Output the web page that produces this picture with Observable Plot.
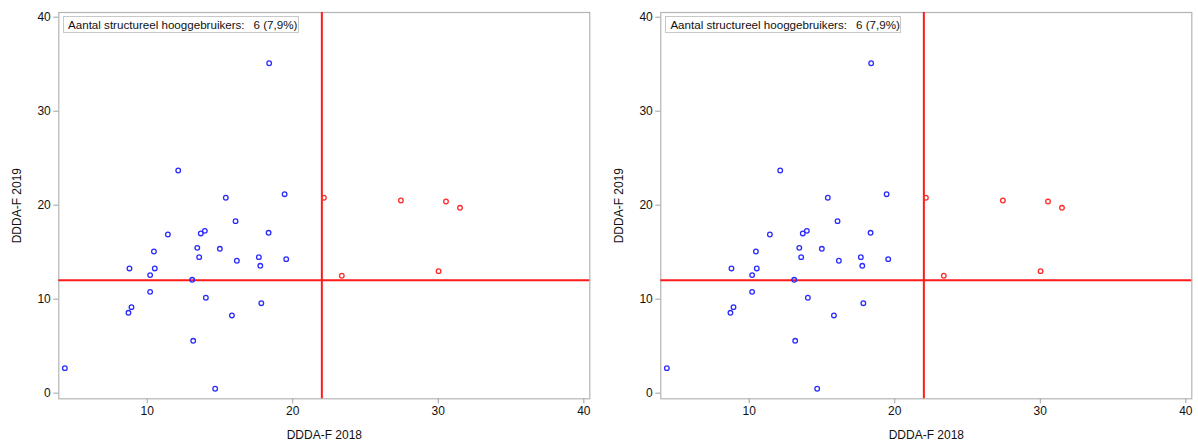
<!DOCTYPE html>
<html>
<head>
<meta charset="utf-8">
<script src="https://cdn.jsdelivr.net/npm/d3@7"></script>
<script src="https://cdn.jsdelivr.net/npm/@observablehq/plot@0.6"></script>
<style>
  html, body { margin: 0; padding: 0; background: #fff; }
  body { width: 1198px; height: 441px; position: relative; overflow: hidden; font-family: "Liberation Sans", Arial, sans-serif; }
  .panel { position: absolute; top: 0; width: 602px; height: 441px; }
  .panel svg { max-width: none !important; width: 602px; height: 441px; }
  .legendbox { position: absolute; border: 1px solid #c8c8c8; background: #fff; font-size: 11.6px; color: #111; padding: 0 0 0 4px; height: 17px; line-height: 15px; white-space: nowrap; box-sizing: border-box; }
  .legendbox span.v { margin-left: 9px; }
</style>
</head>
<body>
<script>
// DDDA-F 2018 (x) and DDDA-F 2019 (y) per prescriber
const ddda2018 = [4.34, 8.78, 8.71, 8.92, 10.2, 10.46, 10.52, 10.2, 11.42, 13.09, 13.16, 13.44, 13.57, 13.68, 13.96, 14.03, 14.67, 14.99, 16.07, 16.16, 15.82, 17.67, 17.77, 17.84, 18.34, 19.55, 12.13, 15.4, 18.38, 19.44, 22.14, 27.43, 30.53, 31.49, 23.37, 30.02];
const ddda2019 = [2.66, 13.27, 8.55, 9.15, 12.56, 15.07, 13.27, 10.78, 16.88, 12.06, 5.57, 15.46, 14.47, 16.99, 17.27, 10.15, 0.47, 15.36, 18.3, 14.09, 8.27, 14.47, 13.55, 9.57, 17.06, 14.26, 23.69, 20.79, 35.1, 21.17, 20.79, 20.5, 20.39, 19.72, 12.49, 12.98];
const xThreshold = 22;
const yThreshold = 12;
const xTicks = [10, 20, 30, 40];
const yTicks = [0, 10, 20, 30, 40];
const legendLabel = "Aantal structureel hooggebruikers:";
const legendValue = "6 (7,9%)";
const xLabel = "DDDA-F 2018";
const yLabel = "DDDA-F 2019";

const data = ddda2018.map((x, i) => ({x, y: ddda2019[i], high: x > xThreshold && ddda2019[i] > yThreshold}));

function panel(left) {
  const chart = Plot.plot({
    width: 602,
    height: 441,
    marginLeft: 58.3,
    marginRight: 12.7,
    marginTop: 12,
    marginBottom: 42.7,
    style: {fontFamily: "Liberation Sans, Arial, sans-serif", fontSize: "12px", color: "#111", background: "transparent"},
    x: {domain: [3.925, 40.41], ticks: xTicks, label: null},
    y: {domain: [-0.6, 40.5], ticks: yTicks, label: null},
    marks: [
      Plot.frame({stroke: "#b4b4b4", strokeWidth: 1.2}),
      Plot.axisX({ticks: xTicks, tickSize: 5, stroke: "#a0a0a0", tickPadding: 3, fontSize: 12, fill: "#111"}),
      Plot.axisY({ticks: yTicks, tickSize: 5, stroke: "#a0a0a0", tickPadding: 3, fontSize: 12, fill: "#111"}),
      Plot.axisX({ticks: [], label: xLabel, labelAnchor: "center", labelOffset: 40, labelArrow: "none", fontSize: 12}),
      Plot.axisY({ticks: [], label: yLabel, labelAnchor: "center", labelOffset: 46, labelArrow: "none", fontSize: 12}),
      Plot.ruleX([xThreshold], {stroke: "#ff1a1a", strokeWidth: 2}),
      Plot.ruleY([yThreshold], {stroke: "#ff1a1a", strokeWidth: 2}),
      Plot.dot(data, {x: "x", y: "y", r: 2.3, strokeWidth: 1.3, fill: "none", stroke: d => d.high ? "#ff2a2a" : "#2b2bff"})
    ]
  });
  const wrap = document.createElement("div");
  wrap.className = "panel";
  wrap.style.left = left + "px";
  wrap.appendChild(chart);
  const box = document.createElement("div");
  box.className = "legendbox";
  box.style.left = "63px";
  box.style.top = "16px";
  box.style.width = "236px";
  box.innerHTML = `<span>${legendLabel}</span><span class="v">${legendValue}</span>`;
  wrap.appendChild(box);
  document.body.appendChild(wrap);
}
panel(0);
panel(602.4);
</script>
</body>
</html>
